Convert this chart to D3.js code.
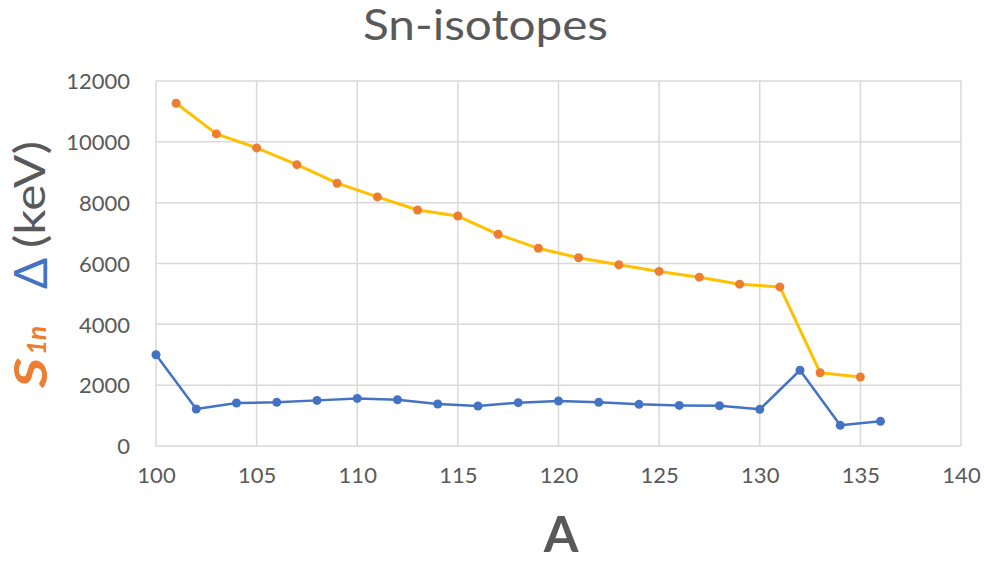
<!DOCTYPE html>
<html>
<head>
<meta charset="utf-8">
<script src="https://cdn.jsdelivr.net/npm/d3@7"></script>
<style>
  body { margin: 0; background: #fff; }
  svg { display: block; font-family: Lato, "Open Sans", sans-serif; }
</style>
</head>
<body>
<svg id="chart" width="984" height="563"></svg>
<script>
// One-neutron separation energies (odd A) and Δ (even A) for tin isotopes, keV
const s1nA = [101, 103, 105, 107, 109, 111, 113, 115, 117, 119, 121, 123, 125, 127, 129, 131, 133, 135];
const s1nValues = [11270, 10260, 9800, 9250, 8640, 8190, 7760, 7560, 6960, 6500, 6190, 5960, 5740, 5550, 5320, 5230, 2410, 2270];
const deltaA = [100, 102, 104, 106, 108, 110, 112, 114, 116, 118, 120, 122, 124, 126, 128, 130, 132, 134, 136];
const deltaValues = [3000, 1215, 1415, 1435, 1500, 1565, 1520, 1380, 1315, 1425, 1480, 1435, 1370, 1335, 1325, 1205, 2490, 680, 810];
const xTicks = [100, 105, 110, 115, 120, 125, 130, 135, 140];
const yTicks = [0, 2000, 4000, 6000, 8000, 10000, 12000];

const svg = d3.select("#chart");
const plotLeft = 156, plotRight = 961, plotTop = 81, plotBottom = 446;

const x = d3.scaleLinear().domain([100, 140]).range([plotLeft, plotRight]);
const y = d3.scaleLinear().domain([0, 12000]).range([plotBottom, plotTop]);

const textColor = "#595959";
const gridColor = "#d9d9d9";

// gridlines
svg.append("g").selectAll("line").data(yTicks).join("line")
  .attr("x1", plotLeft).attr("x2", plotRight)
  .attr("y1", d => y(d)).attr("y2", d => y(d))
  .attr("stroke", gridColor).attr("stroke-width", 1.5);
svg.append("g").selectAll("line").data(xTicks).join("line")
  .attr("x1", d => x(d)).attr("x2", d => x(d))
  .attr("y1", plotTop).attr("y2", plotBottom)
  .attr("stroke", gridColor).attr("stroke-width", 1.5);

// axes (labels only)
const yAxis = svg.append("g").attr("transform", `translate(${plotLeft - 26},0)`)
  .call(d3.axisLeft(y).tickValues(yTicks).tickSize(0).tickPadding(0).tickFormat(d3.format("d")));
yAxis.select(".domain").remove();
yAxis.selectAll("text").attr("fill", textColor).attr("font-size", 22)
  .attr("font-family", "Lato, sans-serif").attr("dy", "0.35em");

const xAxis = svg.append("g").attr("transform", `translate(0,${plotBottom + 21})`)
  .call(d3.axisBottom(x).tickValues(xTicks).tickSize(0).tickPadding(0).tickFormat(d3.format("d")));
xAxis.select(".domain").remove();
xAxis.selectAll("text").attr("fill", textColor).attr("font-size", 22)
  .attr("font-family", "Lato, sans-serif").attr("dy", "0.71em");

// series
const lineGen = d3.line().x(d => x(d[0])).y(d => y(d[1]));
const s1n = s1nA.map((a, i) => [a, s1nValues[i]]);
const delta = deltaA.map((a, i) => [a, deltaValues[i]]);

svg.append("path").datum(s1n).attr("d", lineGen)
  .attr("fill", "none").attr("stroke", "#FFC000").attr("stroke-width", 3)
  .attr("stroke-linejoin", "round");
svg.append("g").selectAll("circle").data(s1n).join("circle")
  .attr("cx", d => x(d[0])).attr("cy", d => y(d[1])).attr("r", 4.5)
  .attr("fill", "#ED7D31");

svg.append("path").datum(delta).attr("d", lineGen)
  .attr("fill", "none").attr("stroke", "#4472C4").attr("stroke-width", 2.5)
  .attr("stroke-linejoin", "round");
svg.append("g").selectAll("circle").data(delta).join("circle")
  .attr("cx", d => x(d[0])).attr("cy", d => y(d[1])).attr("r", 4.5)
  .attr("fill", "#4472C4");

// title
svg.append("text").attr("x", 485.5).attr("y", 40).attr("text-anchor", "middle")
  .attr("fill", textColor).attr("font-size", 42)
  .attr("textLength", 245).attr("lengthAdjust", "spacingAndGlyphs").text("Sn-isotopes");

// x-axis title
svg.append("text").attr("x", 561).attr("y", 552).attr("text-anchor", "middle")
  .attr("fill", textColor).attr("font-size", 50).attr("font-weight", "bold").text("A");

// y-axis title, read bottom to top; x runs along the rotated baseline (x = -screen y)
const yt = svg.append("g").attr("transform", "rotate(-90)");
yt.append("text").attr("x", -388).attr("y", 47)
  .attr("fill", "#ED7D31").attr("font-weight", "bold").attr("font-style", "italic")
  .attr("font-size", 46).attr("textLength", 30).attr("lengthAdjust", "spacingAndGlyphs").text("S");
yt.append("text").attr("x", -355).attr("y", 46)
  .attr("fill", "#ED7D31").attr("font-weight", "bold").attr("font-style", "italic")
  .attr("font-size", 26).attr("textLength", 29).attr("lengthAdjust", "spacingAndGlyphs").text("1n");
yt.append("text").attr("x", -289).attr("y", 47)
  .attr("fill", "#4472C4").attr("font-size", 46).text("Δ");
yt.append("text").attr("x", -248).attr("y", 45)
  .attr("fill", textColor).attr("font-size", 43)
  .attr("textLength", 107).attr("lengthAdjust", "spacingAndGlyphs").text("(keV)");
</script>
</body>
</html>
